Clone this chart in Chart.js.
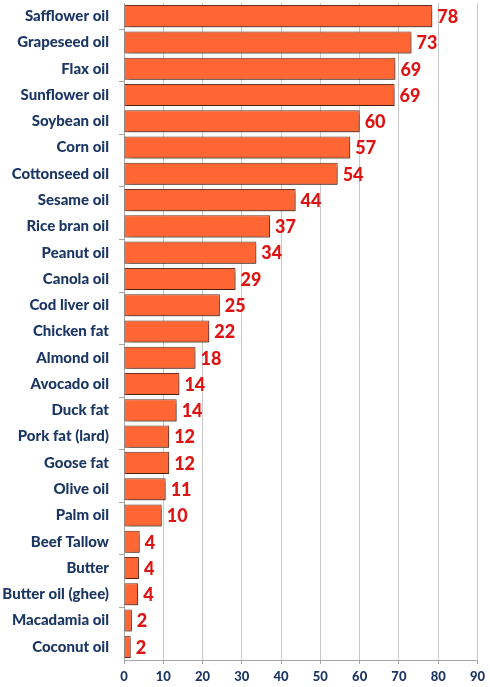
<!DOCTYPE html>
<html><head><meta charset="utf-8">
<script src="https://cdn.jsdelivr.net/npm/chart.js@4"></script>
<style>html,body{margin:0;padding:0;background:#fff}#wrap{width:490px;height:687px;position:relative}</style>
</head><body><div id="wrap"><canvas id="c"></canvas></div>
<script>
const categories = ["Safflower oil","Grapeseed oil","Flax oil","Sunflower oil","Soybean oil","Corn oil","Cottonseed oil","Sesame oil","Rice bran oil","Peanut oil","Canola oil","Cod liver oil","Chicken fat","Almond oil","Avocado oil","Duck fat","Pork fat (lard)","Goose fat","Olive oil","Palm oil","Beef Tallow","Butter","Butter oil (ghee)","Macadamia oil","Coconut oil"];
const values = [78.5,73.2,69.1,68.9,60.0,57.6,54.4,43.7,37.2,33.7,28.4,24.4,21.7,18.2,14.1,13.4,11.5,11.5,10.6,9.6,4.0,3.8,3.6,2.0,1.7];
const valueLabels = ["78","73","69","69","60","57","54","44","37","34","29","25","22","18","14","14","12","12","11","10","4","4","4","2","2"];
const xTicks = [0,10,20,30,40,50,60,70,80,90];

const navy = '#1c3764';
const shadowPlugin = {
  id:'shadow',
  beforeDatasetsDraw(chart){const c=chart.ctx;c.save();c.shadowColor='rgba(0,0,0,0.42)';c.shadowBlur=4;c.shadowOffsetX=2;c.shadowOffsetY=3;},
  afterDatasetsDraw(chart){chart.ctx.restore();}
};
const labelPlugin = {
  id:'vlabels',
  afterDraw(chart){
    const c=chart.ctx; const meta=chart.getDatasetMeta(0);
    c.save(); c.font='900 18px Lato'; c.fillStyle='#dd1414'; c.textAlign='left'; c.textBaseline='middle';
    meta.data.forEach((bar,i)=>{ c.fillText(valueLabels[i], bar.x+5, bar.y+1); });
    c.restore();
  }
};
new Chart(document.getElementById('c'),{
  type:'bar',
  data:{labels:categories,datasets:[{data:values,backgroundColor:'#ff6633',borderColor:'#6e3424',borderWidth:1,borderSkipped:false,barPercentage:0.84,categoryPercentage:1}]},
  options:{
    indexAxis:'y',responsive:true,maintainAspectRatio:false,animation:false,
    layout:{padding:{top:3,right:12,left:0,bottom:0}},
    plugins:{legend:{display:false},tooltip:{enabled:false}},
    scales:{
      x:{min:0,max:90,afterBuildTicks(s){s.ticks=xTicks.map(v=>({value:v}));},
        afterFit(s){s.height=27;},
        grid:{color:'#c9c9c9',lineWidth:1,tickLength:4,tickColor:'#a6a6a6'},
        border:{color:'#a6a6a6'},
        ticks:{color:navy,font:{family:'Lato',weight:'900',size:13},padding:5}},
      y:{afterFit(s){s.width=124;s.paddingTop=0;s.paddingBottom=0;},
        grid:{display:true,drawOnChartArea:false,offset:true,tickLength:5,tickColor:(ctx)=> (ctx.index%2===1?'#a6a6a6':'rgba(0,0,0,0)')},
        border:{color:'#a6a6a6'},
        ticks:{color:navy,font:{family:'Lato',weight:'900',size:15},padding:10,autoSkip:false}}
    }
  },
  plugins:[shadowPlugin,labelPlugin]
});
</script></body></html>
